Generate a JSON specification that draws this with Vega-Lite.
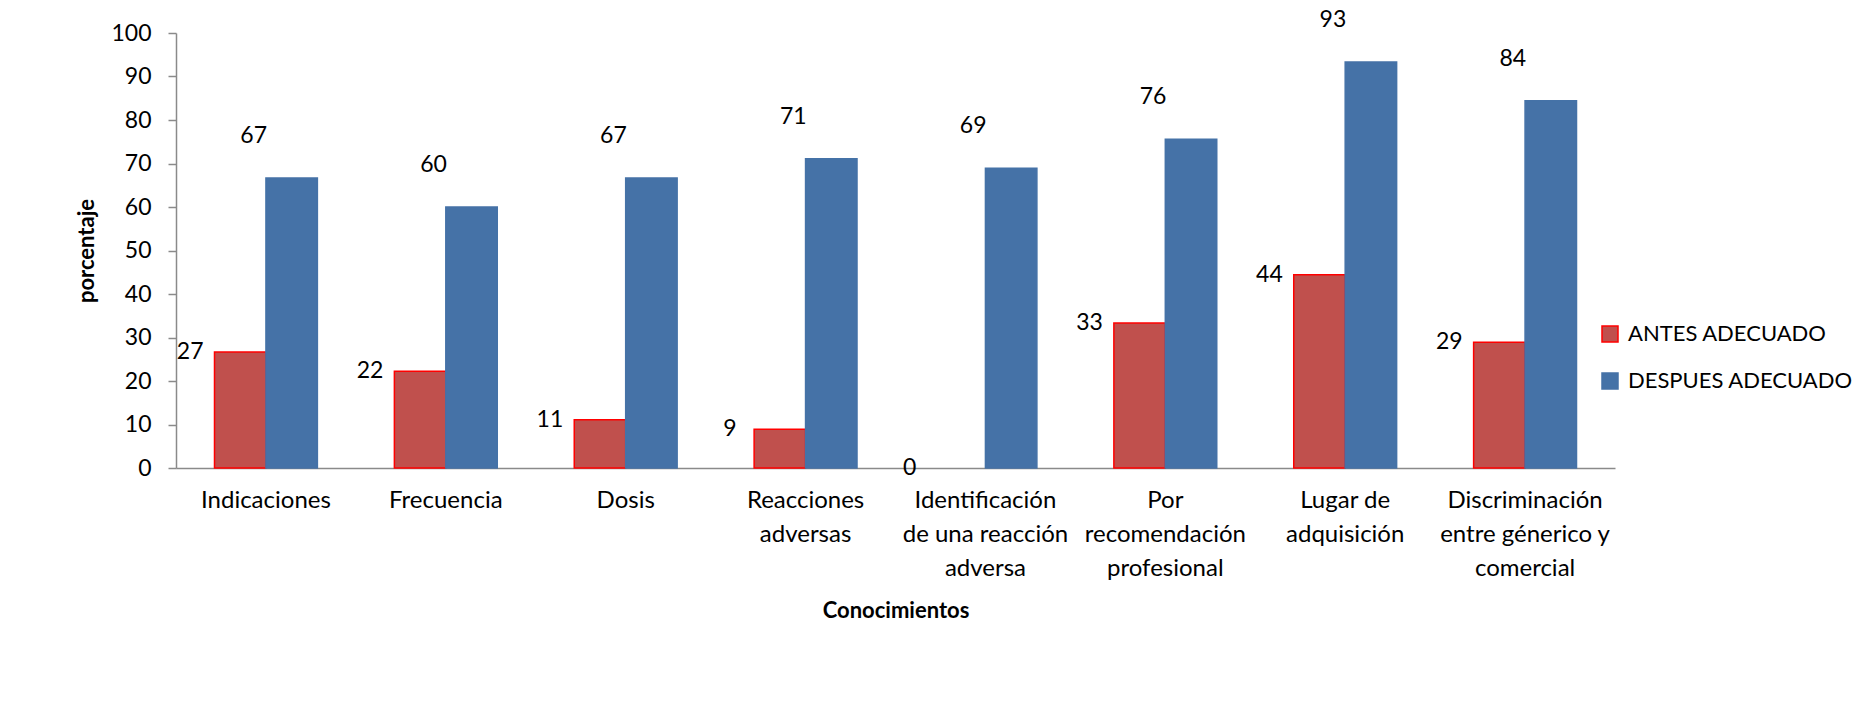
{
  "$schema": "https://vega.github.io/schema/vega-lite/v6.json",
  "width": 1439,
  "height": 435,
  "autosize": {"type": "none"},
  "padding": {"left": 176, "top": 33, "right": 247, "bottom": 233},
  "background": "white",
  "config": {
    "view": {"stroke": null},
    "font": "Lato",
    "axis": {"domainColor": "#8a8a8a", "domainWidth": 1.5, "tickColor": "#8a8a8a", "tickWidth": 1.5, "labelColor": "black", "titleColor": "black", "labelFont": "Lato", "titleFont": "Lato"},
    "legend": {"labelFont": "Lato"}
  },
  "data": {
    "values": [
      {"conocimiento": "Indicaciones", "serie": "ANTES ADECUADO", "porcentaje": 26.67},
      {"conocimiento": "Frecuencia", "serie": "ANTES ADECUADO", "porcentaje": 22.22},
      {"conocimiento": "Dosis", "serie": "ANTES ADECUADO", "porcentaje": 11.11},
      {"conocimiento": "Reacciones adversas", "serie": "ANTES ADECUADO", "porcentaje": 8.89},
      {"conocimiento": "Identificación de una reacción adversa", "serie": "ANTES ADECUADO", "porcentaje": 0},
      {"conocimiento": "Por recomendación profesional", "serie": "ANTES ADECUADO", "porcentaje": 33.33},
      {"conocimiento": "Lugar de adquisición", "serie": "ANTES ADECUADO", "porcentaje": 44.44},
      {"conocimiento": "Discriminación entre génerico y comercial", "serie": "ANTES ADECUADO", "porcentaje": 28.89},
      {"conocimiento": "Indicaciones", "serie": "DESPUES ADECUADO", "porcentaje": 66.67},
      {"conocimiento": "Frecuencia", "serie": "DESPUES ADECUADO", "porcentaje": 60},
      {"conocimiento": "Dosis", "serie": "DESPUES ADECUADO", "porcentaje": 66.67},
      {"conocimiento": "Reacciones adversas", "serie": "DESPUES ADECUADO", "porcentaje": 71.11},
      {"conocimiento": "Identificación de una reacción adversa", "serie": "DESPUES ADECUADO", "porcentaje": 68.89},
      {"conocimiento": "Por recomendación profesional", "serie": "DESPUES ADECUADO", "porcentaje": 75.56},
      {"conocimiento": "Lugar de adquisición", "serie": "DESPUES ADECUADO", "porcentaje": 93.33},
      {"conocimiento": "Discriminación entre génerico y comercial", "serie": "DESPUES ADECUADO", "porcentaje": 84.44}
    ]
  },
  "encoding": {
    "x": {
      "field": "conocimiento",
      "type": "nominal",
      "sort": null,
      "scale": {"paddingInner": 0.428, "paddingOuter": 0.214},
      "axis": {
        "title": "Conocimientos",
        "titleFontSize": 22,
        "titleFontWeight": "bold",
        "titlePadding": 20,
        "labelAngle": 0,
        "labelFontSize": 24,
        "labelPadding": 20,
        "labelLineHeight": 34,
        "labelLimit": 300,
        "ticks": false,
        "labelExpr": "datum.value == 'Reacciones adversas' ? ['Reacciones', 'adversas'] : datum.value == 'Identificación de una reacción adversa' ? ['Identificación', 'de una reacción', 'adversa'] : datum.value == 'Por recomendación profesional' ? ['Por', 'recomendación', 'profesional'] : datum.value == 'Lugar de adquisición' ? ['Lugar de', 'adquisición'] : datum.value == 'Discriminación entre génerico y comercial' ? ['Discriminación', 'entre génerico y', 'comercial'] : datum.value"
      }
    },
    "xOffset": {"field": "serie", "type": "nominal", "sort": ["ANTES ADECUADO", "DESPUES ADECUADO"], "scale": {"paddingInner": 0, "paddingOuter": 0}},
    "y": {
      "field": "porcentaje",
      "type": "quantitative",
      "scale": {"domain": [0, 100], "nice": false},
      "axis": {
        "title": "porcentaje",
        "titleFontSize": 22,
        "titleFontWeight": "bold",
        "titlePadding": 12,
        "values": [0, 10, 20, 30, 40, 50, 60, 70, 80, 90, 100],
        "labelFontSize": 23,
        "labelPadding": 17,
        "tickSize": 8,
        "grid": false
      }
    }
  },
  "layer": [
    {
      "mark": {"type": "bar", "strokeWidth": 1.5},
      "encoding": {
        "color": {
          "field": "serie",
          "type": "nominal",
          "scale": {"domain": ["ANTES ADECUADO", "DESPUES ADECUADO"], "range": ["#C0504D", "#4572A7"]},
          "legend": {
            "title": null,
            "orient": "none",
            "legendX": 1423,
            "legendY": 290,
            "symbolType": "square",
            "symbolSize": 256,
            "symbolStrokeWidth": 1.5,
            "labelFontSize": 22,
            "labelOffset": 7,
            "labelLimit": 400,
            "rowPadding": 25,
            "labelColor": "black"
          }
        },
        "stroke": {
          "field": "serie",
          "type": "nominal",
          "scale": {"domain": ["ANTES ADECUADO", "DESPUES ADECUADO"], "range": ["#FF0000", "#4572A7"]},
          "legend": null
        },
        "strokeOpacity": {"condition": {"test": "datum.porcentaje == 0", "value": 0}, "value": 1}
      }
    },
    {
      "transform": [{"filter": "datum.serie == 'ANTES ADECUADO'"}],
      "mark": {"type": "text", "fontSize": 23, "font": "Lato", "color": "black", "dx": -50, "baseline": "middle", "align": "center"},
      "encoding": {"text": {"field": "porcentaje", "type": "quantitative", "format": ".0f"}}
    },
    {
      "transform": [{"filter": "datum.serie == 'DESPUES ADECUADO'"}],
      "mark": {"type": "text", "fontSize": 23, "font": "Lato", "color": "black", "dx": -38, "dy": -42, "baseline": "middle", "align": "center"},
      "encoding": {"text": {"field": "porcentaje", "type": "quantitative", "format": ".0f"}}
    }
  ]
}
